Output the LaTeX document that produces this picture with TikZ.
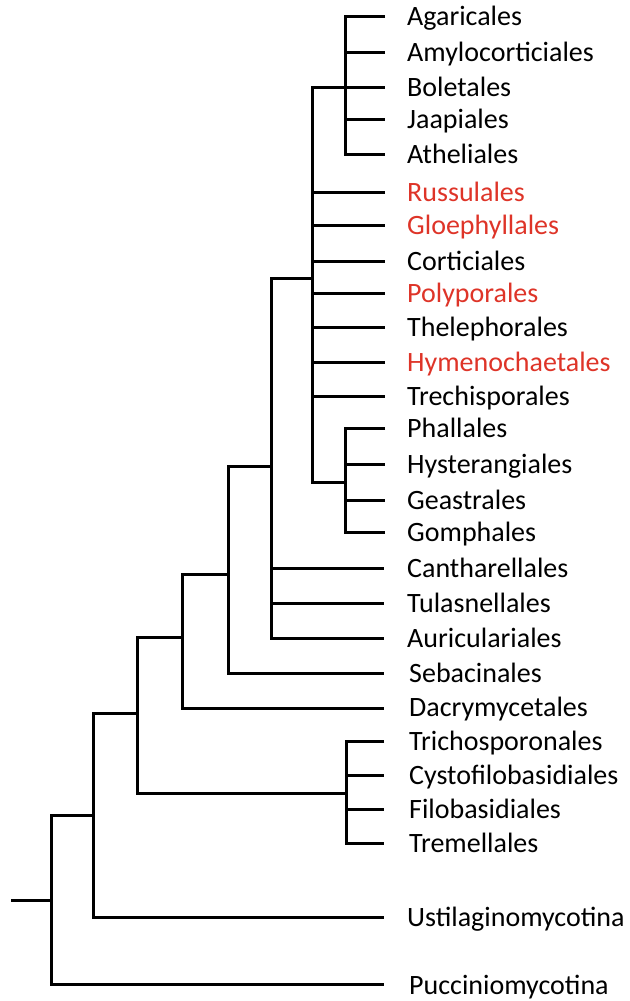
\documentclass[tikz,border=0pt]{standalone}
\usepackage{fontspec}
\setmainfont{Carlito}
\definecolor{hired}{RGB}{222,52,40}
\begin{document}
\begin{tikzpicture}[x=1pt,y=-1pt,
  br/.style={line width=3pt,line join=miter,line cap=butt},
  lab/.style={anchor=base west,inner sep=0pt,font=\fontsize{28}{30}\selectfont},
  redlab/.style={lab,text=hired}]
\useasboundingbox (0,0) rectangle (629,1001);
% tip ends
\foreach \n/\y in {agar/16,amyl/52,bole/87,jaap/119,athe/154,russ/192,gloe/225,cort/261,poly/293,thel/327,hyme/362,trec/396,phal/428,hyst/464,geas/500,gomp/532}
  \coordinate (t\n) at (385,\y);
\foreach \n/\y in {cant/568,tula/603,auri/638,seba/673,dacr/708,tric/741,cyst/775,filo/809,trem/843,usti/917,pucc/984}
  \coordinate (t\n) at (384,\y);
% labels
\node[lab] (agar) at (407,25) {Agaricales};
\node[lab] (amyl) at (407,61) {Amylocorticiales};
\node[lab] (bole) at (407,96) {Boletales};
\node[lab] (jaap) at (407,128) {Jaapiales};
\node[lab] (athe) at (407,163) {Atheliales};
\node[redlab] (russ) at (407,201) {Russulales};
\node[redlab] (gloe) at (407,234) {Gloephyllales};
\node[lab] (cort) at (407,270) {Corticiales};
\node[redlab] (poly) at (407,302) {Polyporales};
\node[lab] (thel) at (407,336) {Thelephorales};
\node[redlab] (hyme) at (407,371) {Hymenochaetales};
\node[lab] (trec) at (407,405) {Trechisporales};
\node[lab] (phal) at (407,437) {Phallales};
\node[lab] (hyst) at (407,473) {Hysterangiales};
\node[lab] (geas) at (407,509) {Geastrales};
\node[lab] (gomp) at (407,541) {Gomphales};
\node[lab] (cant) at (407,577) {Cantharellales};
\node[lab] (tula) at (407,612) {Tulasnellales};
\node[lab] (auri) at (407,647) {Auriculariales};
\node[lab] (seba) at (409,682) {Sebacinales};
\node[lab] (dacr) at (409,716) {Dacrymycetales};
\node[lab] (tric) at (409,750) {Trichosporonales};
\node[lab] (cyst) at (409,784) {Cystofilobasidiales};
\node[lab] (filo) at (409,818) {Filobasidiales};
\node[lab] (trem) at (409,852) {Tremellales};
\node[lab] (usti) at (407,926) {Ustilaginomycotina};
\node[lab] (pucc) at (409,994) {Pucciniomycotina};
% internal nodes (vertical bar extremes)
\coordinate (aT) at (345,16);  \coordinate (aB) at (345,154); \coordinate (aM) at (345,87);
\coordinate (bT) at (312,87);  \coordinate (bB) at (312,482); \coordinate (bM) at (312,278);
\coordinate (pT) at (345,428); \coordinate (pB) at (345,532); \coordinate (pM) at (345,482);
\coordinate (cT) at (271,278); \coordinate (cB) at (271,638); \coordinate (cM) at (271,466);
\coordinate (dT) at (228,466); \coordinate (dB) at (228,673); \coordinate (dM) at (228,574);
\coordinate (eT) at (182,574); \coordinate (eB) at (182,708); \coordinate (eM) at (182,637);
\coordinate (fT) at (137,637); \coordinate (fB) at (137,793); \coordinate (fM) at (137,713);
\coordinate (gT) at (346,741); \coordinate (gB) at (346,843); \coordinate (gM) at (346,793);
\coordinate (hT) at (93,713);  \coordinate (hB) at (93,917);  \coordinate (hM) at (93,815);
\coordinate (rT) at (51,815);  \coordinate (rB) at (51,984);  \coordinate (rM) at (51,900);
\coordinate (root) at (11,900);
% Agaricomycetidae clade
\draw[br] (tagar) -- (aT) -- (aB) -- (tathe);
\foreach \n in {amyl,bole,jaap} \draw[br] (aT |- t\n) -- (t\n);
% Agaricomycetes core
\draw[br] (aM) -- (bT) -- (bB) -- (pM);
\foreach \n in {russ,gloe,cort,poly,thel,hyme,trec} \draw[br] (bT |- t\n) -- (t\n);
\draw[br] (tphal) -- (pT) -- (pB) -- (tgomp);
\foreach \n in {hyst,geas} \draw[br] (pT |- t\n) -- (t\n);
% Cantharellales level
\draw[br] (bM) -- (cT) -- (cB) -- (tauri);
\foreach \n in {cant,tula} \draw[br] (cT |- t\n) -- (t\n);
% Sebacinales
\draw[br] (cM) -- (dT) -- (dB) -- (tseba);
% Dacrymycetales
\draw[br] (dM) -- (eT) -- (eB) -- (tdacr);
% Tremellomycetes
\draw[br] (eM) -- (fT) -- (fB) -- (gM);
\draw[br] (ttric) -- (gT) -- (gB) -- (ttrem);
\foreach \n in {cyst,filo} \draw[br] (gT |- t\n) -- (t\n);
% Ustilaginomycotina
\draw[br] (fM) -- (hT) -- (hB) -- (tusti);
% Pucciniomycotina and root
\draw[br] (hM) -- (rT) -- (rB) -- (tpucc);
\draw[br] (root) -- (rM);
\end{tikzpicture}
\end{document}
